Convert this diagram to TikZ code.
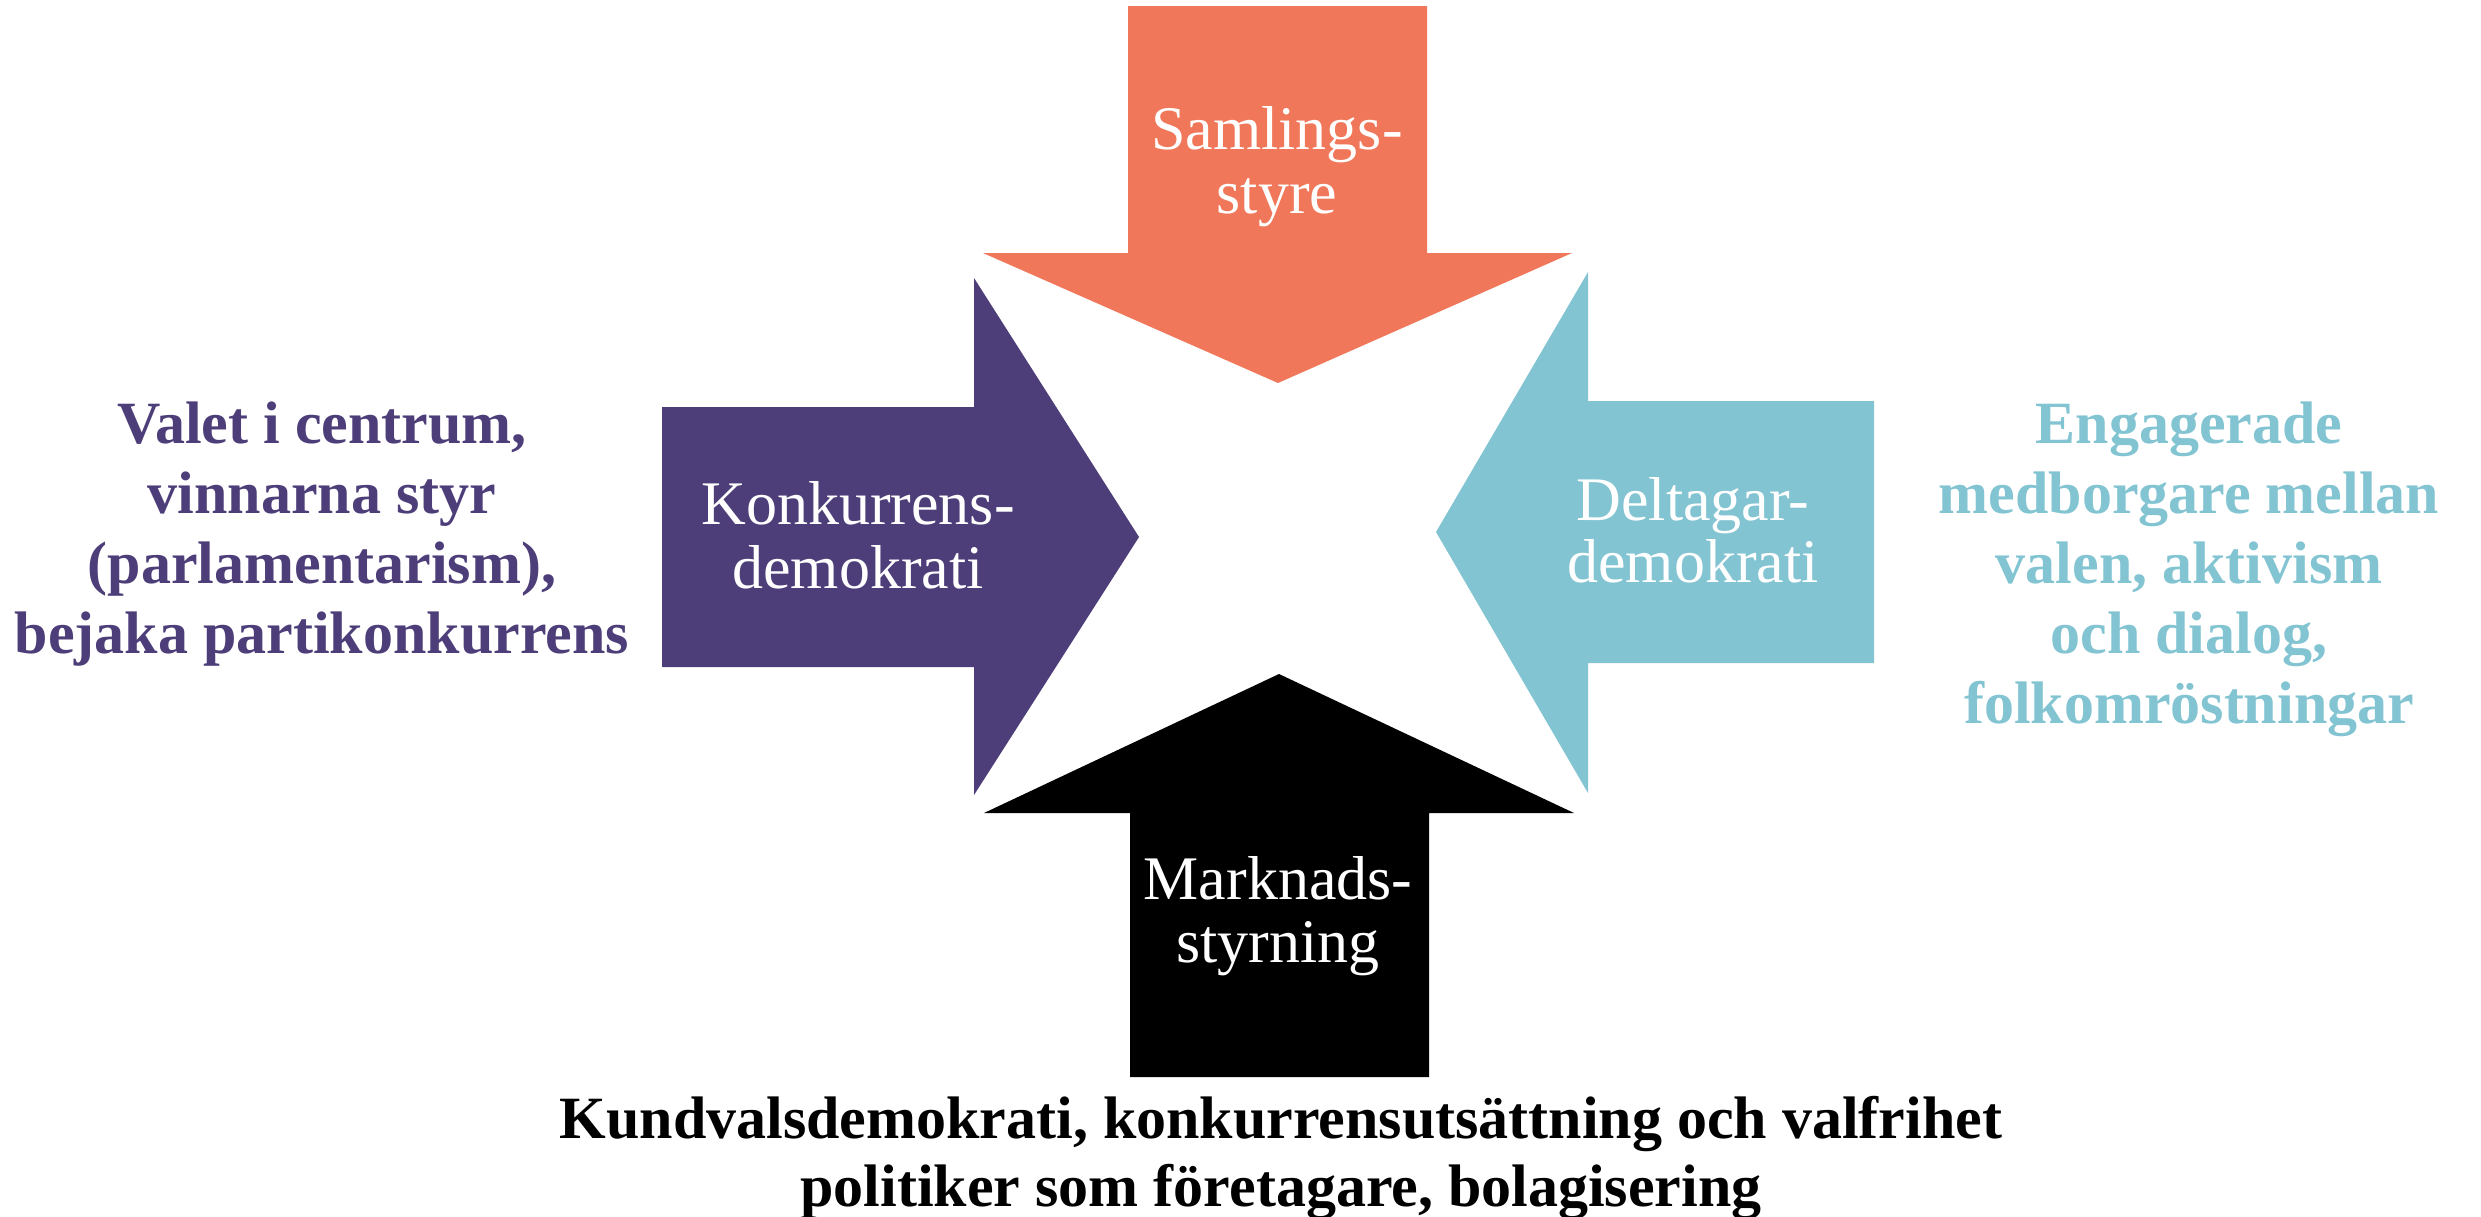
\documentclass[tikz,border=0pt]{standalone}
\usepackage{fontspec}
\setmainfont{Liberation Serif}
\definecolor{cOrange}{HTML}{F07759}
\definecolor{cPurple}{HTML}{4D3E79}
\definecolor{cCyan}{HTML}{82C4D2}
\tikzset{
  arrowlabel/.style={text=white, align=center, anchor=north, inner sep=0pt,
    font=\fontsize{62}{64}\selectfont},
  sidetext/.style={align=center, anchor=north, inner sep=0pt,
    font=\fontsize{60}{70}\selectfont\bfseries},
}
\begin{document}
\begin{tikzpicture}[x=1pt,y=-1pt]
\useasboundingbox (0,0) rectangle (2481,1216);
\fill[white] (0,0) rectangle (2481,1216);
% orange arrow (down)
\fill[cOrange] (1128,6) -- (1427,6) -- (1427,253) -- (1572,253) -- (1278,383)
  -- (983,253) -- (1128,253) -- cycle;
% purple arrow (right)
\fill[cPurple] (662,407) -- (974,407) -- (974,278) -- (1139,537) -- (974,795)
  -- (974,667) -- (662,667) -- cycle;
% cyan arrow (left)
\fill[cCyan] (1874,401) -- (1588,401) -- (1588,272) -- (1436,532) -- (1588,793)
  -- (1588,663) -- (1874,663) -- cycle;
% black arrow (up)
\fill[black] (1130,1077) -- (1429,1077) -- (1429,813) -- (1574,813) -- (1279,674)
  -- (984,813) -- (1130,813) -- cycle;
% arrow labels
\node[arrowlabel] (samlings) at (1277,106) {Samlings-\\styre};
\node[arrowlabel] (konkurrens) at (858,481) {Konkurrens-\\demokrati};
\node[arrowlabel, font=\fontsize{62}{62}\selectfont] (deltagar) at (1693,477) {Deltagar-\\demokrati};
\node[arrowlabel, font=\fontsize{62}{63}\selectfont] (marknads) at (1278,856) {Marknads-\\styrning};
% side texts
\node[sidetext, text=cPurple] (left) at (322,402)
  {Valet i centrum,\\vinnarna styr\\(parlamentarism),\\bejaka partikonkurrens};
\node[sidetext, text=cCyan] (right) at (2189,402)
  {Engagerade\\medborgare mellan\\valen, aktivism\\och dialog,\\folkomröstningar};
\node[sidetext, text=black, font=\fontsize{60}{68}\selectfont\bfseries] (bottom) at (1281,1096)
  {Kundvalsdemokrati, konkurrensutsättning och valfrihet\\politiker som företagare, bolagisering};
\end{tikzpicture}
\end{document}
